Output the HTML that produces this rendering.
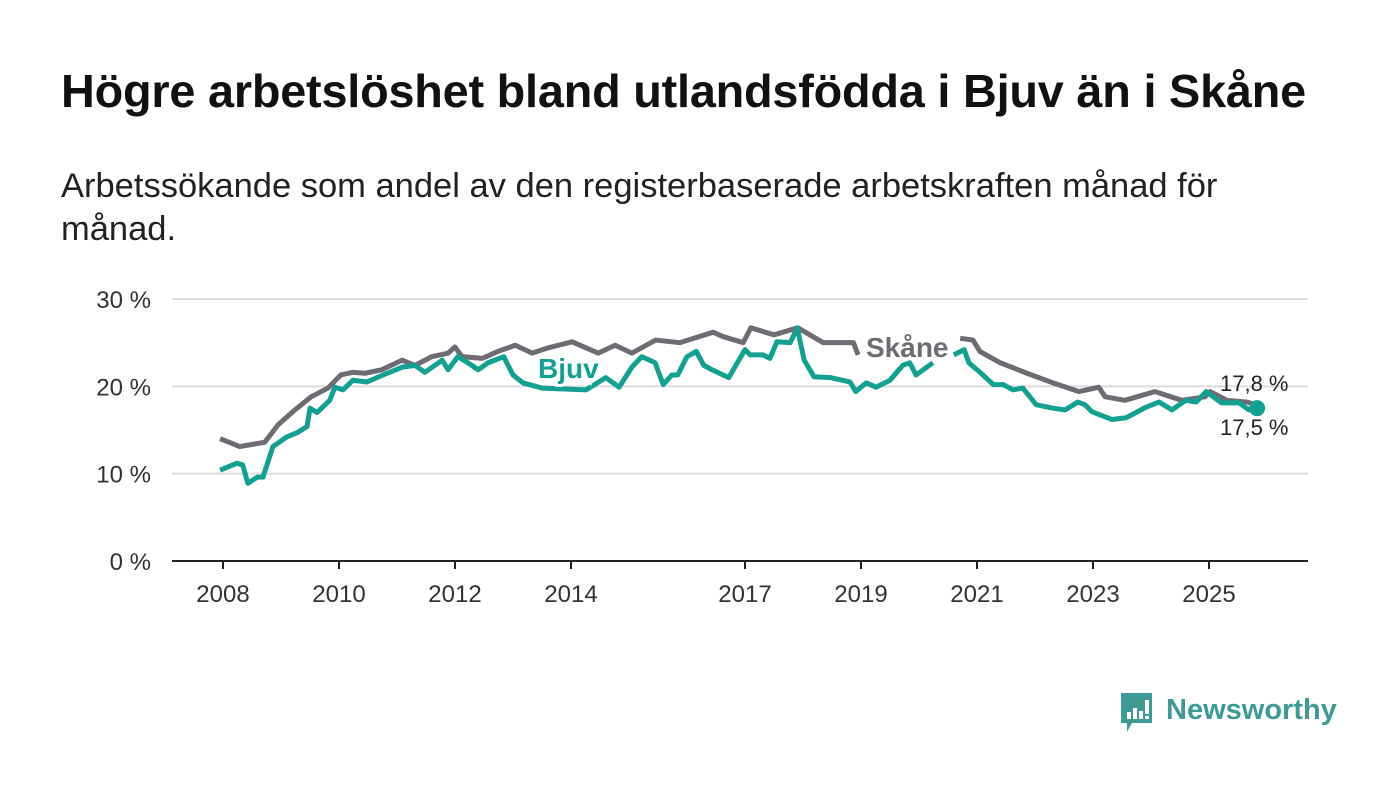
<!DOCTYPE html>
<html><head><meta charset="utf-8"><style>
body{margin:0;background:#fff;width:1400px;height:794px;overflow:hidden;font-family:"Liberation Sans",sans-serif;}
#title{position:absolute;left:61px;top:64px;font-size:46.8px;font-weight:bold;color:#111;margin:0;white-space:nowrap;letter-spacing:-0.2px;}
#sub{position:absolute;left:61px;top:165px;font-size:34.5px;line-height:43px;color:#222;width:1200px;}
svg{position:absolute;left:0;top:0;}
</style></head><body>
<h1 id="title">Högre arbetslöshet bland utlandsfödda i Bjuv än i Skåne</h1>
<div id="sub">Arbetssökande som andel av den registerbaserade arbetskraften månad för månad.</div>
<svg id="chart" width="1400" height="794"></svg>
<div style="position:absolute;left:1119px;top:692px;display:flex;align-items:center;">
<svg width="36" height="42" style="position:static"><path d="M2 1h31v30H13l-5 9v-9H2z" fill="#3d9a94"/><rect x="8" y="20" width="4" height="7" fill="#fff"/><rect x="14" y="16" width="4" height="11" fill="#fff"/><rect x="20" y="19" width="4" height="8" fill="#fff"/><rect x="26" y="8" width="4" height="14" fill="#fff"/><rect x="26" y="24" width="4" height="3" fill="#fff"/></svg>
<span style="font-size:29px;color:#3d9a94;font-weight:bold;margin-left:11px;margin-top:-6px">Newsworthy</span></div>
<script>
const yTicks=[0,10,20,30];
const xTickYears=[2008,2010,2012,2014,2017,2019,2021,2023,2025];
// Data (decimal years, percent)
const skaneDates=[2007.95,2008.29,2008.72,2008.95,2009.24,2009.52,2009.81,2010.03,2010.24,2010.45,2010.74,2011.09,2011.31,2011.6,2011.88,2012.0,2012.12,2012.47,2012.74,2013.04,2013.33,2013.6,2014.02,2014.47,2014.76,2015.05,2015.46,2015.88,2016.45,2016.62,2016.97,2017.1,2017.5,2017.91,2018.35,2018.87,2018.95];
const skaneValues=[14.0,13.1,13.6,15.6,17.3,18.8,19.8,21.3,21.6,21.5,21.9,23.0,22.4,23.4,23.8,24.5,23.4,23.2,24.0,24.7,23.8,24.4,25.1,23.8,24.7,23.8,25.3,25.0,26.2,25.7,25.0,26.7,25.9,26.7,25.0,25.0,23.6];
const skaneDates2=[2020.71,2020.93,2021.05,2021.4,2021.86,2022.31,2022.76,2023.1,2023.21,2023.55,2024.07,2024.53,2024.93,2025.02,2025.31,2025.66,2025.83];
const skaneValues2=[25.5,25.3,24.0,22.7,21.5,20.4,19.4,19.9,18.8,18.4,19.4,18.4,18.8,19.4,18.4,18.2,17.8];
const bjuvDates=[2007.95,2008.24,2008.34,2008.43,2008.59,2008.69,2008.86,2009.1,2009.28,2009.45,2009.5,2009.62,2009.84,2009.93,2010.07,2010.24,2010.48,2010.76,2011.09,2011.31,2011.48,2011.78,2011.88,2012.05,2012.22,2012.4,2012.57,2012.84,2013.0,2013.17,2013.5,2014.26,2014.6,2014.83,2015.05,2015.22,2015.45,2015.59,2015.74,2015.84,2016.0,2016.16,2016.29,2016.43,2016.72,2017.0,2017.09,2017.31,2017.43,2017.55,2017.78,2017.9,2018.02,2018.19,2018.47,2018.81,2018.91,2019.09,2019.26,2019.5,2019.72,2019.84,2019.95,2020.24];
const bjuvValues=[10.4,11.2,11.0,8.9,9.6,9.6,13.1,14.2,14.7,15.4,17.5,17.0,18.4,19.9,19.6,20.7,20.5,21.3,22.2,22.4,21.6,23.0,21.9,23.4,22.7,21.9,22.7,23.4,21.3,20.4,19.8,19.6,21.0,19.9,22.2,23.4,22.7,20.2,21.3,21.3,23.4,24.0,22.4,21.9,21.0,24.2,23.6,23.6,23.2,25.1,25.0,26.7,23.0,21.1,21.0,20.5,19.4,20.4,19.9,20.7,22.4,22.7,21.3,22.7];
const bjuvDates2=[2020.6,2020.78,2020.86,2021.07,2021.28,2021.45,2021.62,2021.79,2022.02,2022.31,2022.52,2022.74,2022.86,2022.98,2023.33,2023.57,2023.91,2024.14,2024.36,2024.6,2024.78,2024.95,2025.22,2025.52,2025.69,2025.83];
const bjuvValues2=[23.6,24.2,22.7,21.5,20.2,20.2,19.6,19.8,17.9,17.5,17.3,18.2,17.9,17.1,16.2,16.4,17.6,18.2,17.3,18.4,18.2,19.4,18.1,18.1,17.3,17.5];
const endLabels=["17,8 %","17,5 %"];

const NS="http://www.w3.org/2000/svg";
const svg=document.getElementById('chart');
const x0=172,x1=1308,yBase=561;
const xs=y=>223+(y-2008)*58;
const ys=v=>yBase-v*8.733;
function el(t,a){const e=document.createElementNS(NS,t);for(const k in a)e.setAttribute(k,a[k]);svg.appendChild(e);return e;}
yTicks.forEach(v=>{
  if(v>0){const g=el('line',{x1:x0,x2:x1,y1:ys(v),y2:ys(v),stroke:'#dcdcdc','stroke-width':2});
  
  }
  const t=el('text',{x:151,y:ys(v)+9,'text-anchor':'end','font-size':24,fill:'#333','font-family':'Liberation Sans, sans-serif'});
  t.textContent=v+' %';
  
  
});
xTickYears.forEach(yr=>{
  const l=el('line',{x1:xs(yr),x2:xs(yr),y1:yBase,y2:yBase+8,stroke:'#222','stroke-width':2});
  
  
  const t=el('text',{x:xs(yr),y:602,'text-anchor':'middle','font-size':24,fill:'#333','font-family':'Liberation Sans, sans-serif'});
  t.textContent=yr;
  
  
});
const ax=el('line',{x1:x0,x2:x1,y1:yBase,y2:yBase,stroke:'#222','stroke-width':2});


function line(d,v,c,name){
  const p=el('polyline',{points:d.map((x,i)=>xs(x)+','+ys(v[i])).join(' '),fill:'none',stroke:c,'stroke-width':5,'stroke-linejoin':'round'});
  
  
}
line(skaneDates,skaneValues,'#6f6b72','skane-line');
line(skaneDates2,skaneValues2,'#6f6b72','skane-line-2');
line(bjuvDates,bjuvValues,'#12a090','bjuv-line');
line(bjuvDates2,bjuvValues2,'#12a090','bjuv-line-2');
const dot=el('circle',{cx:xs(bjuvDates2[bjuvDates2.length-1]),cy:ys(bjuvValues2[bjuvValues2.length-1]),r:8,fill:'#12a090'});


function lab(txt,x,y,c,name,bold){
  const t=el('text',{x:x,y:y,'font-size':bold?28:22,'font-weight':bold?'bold':'normal',fill:c,'font-family':'Liberation Sans, sans-serif',stroke:'#fff','stroke-width':bold?6:0,'paint-order':'stroke'});
  t.textContent=txt;
  
  
}
lab('Skåne',866,357,'#6f6b72','skane-label',true);
lab('Bjuv',538,378,'#12a090','bjuv-label',true);
lab(endLabels[0],1220,391,'#222','skane-end-value',false);
lab(endLabels[1],1220,435,'#222','bjuv-end-value',false);
</script>
</body></html>
